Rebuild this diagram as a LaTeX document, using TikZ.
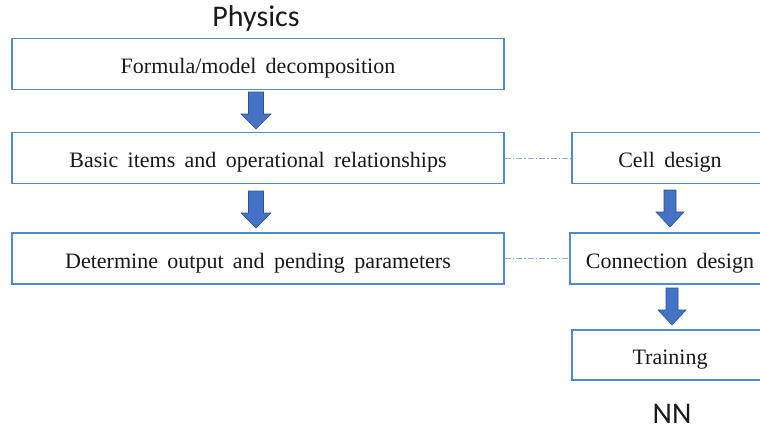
\documentclass[tikz,border=0pt]{standalone}
\usepackage{fontspec}
\setmainfont[WordSpace=1.7]{Liberation Serif}
\newfontfamily\titlefont{Carlito}
\usetikzlibrary{calc}
\definecolor{boxblue}{RGB}{80,140,205}
\definecolor{arrowfill}{RGB}{68,114,196}
\definecolor{arrowedge}{RGB}{47,82,143}
\definecolor{linkblue}{RGB}{140,172,222}
\tikzset{
  procbox/.style={draw=boxblue, line width=1.6pt, fill=white, inner sep=0pt,
    font=\fontsize{22}{26}\selectfont, text=black!90, text height=19pt, text depth=0pt},
  titletext/.style={font=\titlefont\fontsize{30}{34}\selectfont, text=black!90},
  linkline/.style={draw=linkblue, line width=0.8pt, dash pattern=on 6pt off 2pt on 1.5pt off 2pt},
  blockarrow/.style={fill=arrowfill, draw=arrowedge, line width=0.6pt, line join=miter}
}
\newcommand{\blockarr}[5]{% xc, ytop, ybot, shaft half, head half
  \pgfmathsetmacro{\hs}{#3-15}
  \filldraw[blockarrow] (#1-#4,#2) -- (#1+#4,#2) -- (#1+#4,\hs) -- (#1+#5,\hs)
    -- (#1,#3) -- (#1-#5,\hs) -- (#1-#4,\hs) -- cycle;}
\begin{document}
\begin{tikzpicture}[x=1pt,y=-1pt]
\useasboundingbox (0,0) rectangle (760,432);
\clip (0,0) rectangle (760,432);
\fill[white] (0,0) rectangle (760,432);

\node[titletext] (phys) at (256,18) {Physics};
\node[titletext] (nn) at (672,414) {NN};

\node[procbox, minimum width=492pt, minimum height=51pt] (b1) at (258,64) {Formula/model decomposition};
\node[procbox, minimum width=492pt, minimum height=51pt] (b2) at (258,158) {Basic items and operational relationships};
\node[procbox, minimum width=492pt, minimum height=51pt] (b3) at (258,258.5) {Determine output and pending parameters};

\node[procbox, minimum width=196pt, minimum height=51pt] (r1) at (670,158) {Cell design};
\node[procbox, minimum width=200pt, minimum height=51pt] (r2) at (670,258.5) {Connection design};
\node[procbox, minimum width=196pt, minimum height=50pt] (r3) at (670,355) {Training};

\draw[linkline] (b2.east) -- (r1.west);
\draw[linkline] (b3.east) -- (r2.west);

\blockarr{256}{92}{129}{7.5}{15}
\blockarr{256}{191}{228}{7.5}{15}
\blockarr{670}{190}{227}{6}{14}
\blockarr{672}{288}{325}{6}{14}
\end{tikzpicture}
\end{document}
